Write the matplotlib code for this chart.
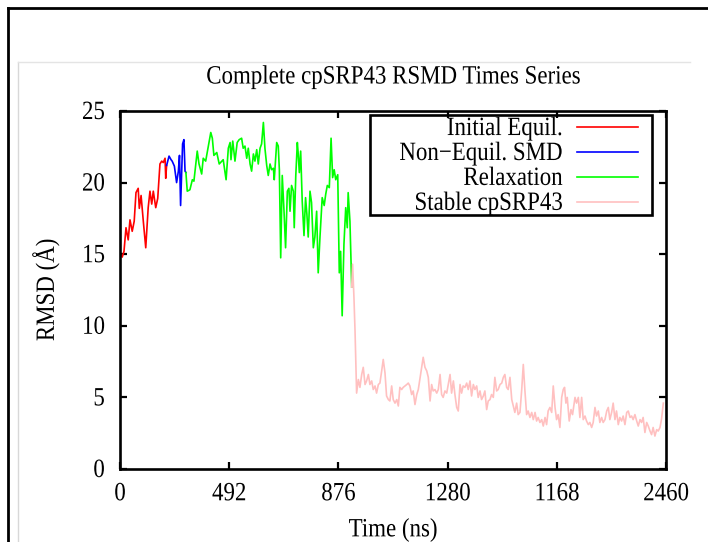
import numpy as np
import matplotlib.pyplot as plt
from matplotlib.lines import Line2D
from matplotlib.patches import Rectangle
from matplotlib.patheffects import AbstractPathEffect
from matplotlib.transforms import Affine2D

plt.rcParams['font.family'] = ['Liberation Serif', 'DejaVu Serif']

# Initial equilibration
equil_t = [0, 10, 18, 27, 37, 45, 55, 64, 72, 82,
           87, 95, 105, 116, 127, 135, 143, 150, 161, 170,
           180, 188, 195, 203, 206, 210]
equil_rmsd = [15.0, 14.8, 15.2, 16.85, 16.0, 17.4, 16.6, 17.3, 19.3, 19.6,
              18.2, 19.1, 17.3, 15.45, 18.25, 19.4, 18.5, 19.4, 18.25, 18.9,
              21.3, 21.5, 21.4, 21.7, 20.3, 21.2]

# Non-equilibrium SMD
smd_t = [210, 221, 230, 235, 245, 255, 263, 268, 273, 282, 288, 293, 297]
smd_rmsd = [21.2, 21.85, 21.6, 21.5, 21.15, 20.0, 20.8, 21.9, 18.4, 22.7, 23.0, 20.8, 20.7]

# Relaxation
relax_t = [297, 303, 315, 326, 333, 348, 356, 368, 375, 386,
           409, 416, 423, 436, 447, 465, 478, 488, 496, 500,
           508, 518, 528, 537, 548, 555, 563, 571, 578, 586,
           593, 601, 608, 616, 623, 631, 638, 646, 653, 661,
           668, 676, 683, 691, 695, 706, 713, 718, 724, 731,
           739, 746, 754, 761, 766, 773, 781, 785, 792, 799,
           803, 808, 814, 821, 829, 836, 842, 848, 856, 863,
           871, 878, 886, 893, 901, 911, 920, 927, 934, 943,
           951, 958, 965, 972, 981, 988, 994, 1001, 1009, 1017,
           1024, 1028, 1036, 1044]
relax_rmsd = [20.7, 19.4, 19.5, 20.2, 20.1, 22.2, 21.3, 20.6, 21.7, 21.5,
              23.5, 23.1, 21.9, 22.1, 21.3, 21.6, 20.2, 22.4, 22.8, 21.6,
              22.9, 21.5, 22.8, 23.0, 23.1, 22.4, 22.55, 21.7, 22.4, 21.3,
              20.8, 22.0, 21.5, 22.3, 21.3, 22.4, 22.7, 24.2, 22.4, 21.2,
              20.5, 21.3, 20.9, 21.0, 20.2, 22.8, 22.55, 20.9, 14.75, 20.5,
              18.0, 15.45, 19.4, 19.6, 18.0, 19.8, 19.4, 16.85, 20.5, 22.8,
              22.0, 20.7, 22.2, 18.7, 16.3, 18.95, 17.8, 16.2, 19.4, 18.6,
              15.45, 16.2, 18.0, 13.7, 16.2, 18.95, 18.4, 19.2, 19.8, 19.65,
              23.1, 20.35, 20.9, 20.2, 20.55, 13.7, 15.2, 10.7, 15.7, 18.25,
              16.85, 19.3, 17.3, 12.7]

# Stable cpSRP43
stable_t = [1044, 1048, 1054, 1059, 1062, 1066,
            1074, 1081, 1089, 1096, 1104, 1111, 1119, 1126, 1134, 1141,
            1149, 1156, 1164, 1171, 1179, 1186, 1194, 1201, 1209, 1216,
            1224, 1231, 1239, 1247, 1254, 1261, 1269, 1276, 1284, 1292,
            1299, 1306, 1314, 1321, 1329, 1337, 1344, 1351, 1359, 1366,
            1374, 1382, 1389, 1397, 1404, 1411, 1419, 1427, 1434, 1442,
            1449, 1456, 1464, 1472, 1479, 1487, 1494, 1502, 1509, 1517,
            1524, 1532, 1539, 1546, 1554, 1562, 1569, 1577, 1584, 1592,
            1599, 1607, 1614, 1622, 1629, 1637, 1644, 1652, 1659, 1667,
            1674, 1682, 1689, 1697, 1704, 1712, 1720, 1727, 1734, 1742,
            1749, 1757, 1765, 1772, 1779, 1787, 1794, 1802, 1810, 1817,
            1824, 1832, 1839, 1847, 1855, 1862, 1870, 1877, 1884, 1892,
            1900, 1907, 1915, 1922, 1929, 1937, 1945, 1952, 1960, 1967,
            1974, 1982, 1990, 1997, 2003, 2009, 2015, 2024, 2032, 2039,
            2050, 2057, 2065, 2072, 2080, 2087, 2095, 2102, 2110, 2117,
            2125, 2132, 2140, 2147, 2155, 2162, 2170, 2177, 2185, 2193,
            2200, 2207, 2215, 2222, 2230, 2237, 2245, 2252, 2260, 2267,
            2275, 2283, 2290, 2298, 2305, 2312, 2320, 2328, 2335, 2343,
            2350, 2357, 2365, 2373, 2380, 2388, 2395, 2402, 2410, 2418,
            2425, 2433, 2440, 2448]
stable_rmsd = [12.7, 14.3, 12.0, 9.6, 7.65, 5.3,
               6.25, 5.7, 6.6, 7.1, 5.9, 6.15, 6.6, 5.9, 6.15, 5.55,
               5.8, 5.3, 5.9, 6.0, 6.85, 7.65, 6.7, 5.1, 4.85, 4.75,
               5.8, 4.85, 4.6, 4.85, 4.4, 5.7, 5.55, 5.7, 5.8, 5.9,
               6.0, 5.8, 5.2, 5.45, 4.5, 5.2, 5.55, 6.25, 7.1, 7.8,
               7.1, 6.85, 6.4, 4.75, 5.9, 5.45, 5.55, 5.3, 5.55, 6.6,
               5.2, 5.0, 5.45, 5.3, 5.9, 6.6, 5.3, 6.15, 5.2, 4.3,
               4.05, 5.9, 5.3, 5.8, 5.7, 6.0, 5.55, 6.15, 5.1, 5.9,
               5.55, 5.8, 5.0, 5.45, 4.85, 5.1, 5.45, 4.15, 4.75, 4.85,
               5.2, 5.0, 6.4, 5.45, 5.55, 5.9, 6.0, 6.4, 6.6, 5.7,
               5.55, 6.4, 4.85, 4.4, 3.95, 4.6, 3.8, 3.95, 5.55, 7.3,
               5.55, 3.8, 4.05, 3.6, 3.95, 3.45, 3.95, 3.35, 3.6, 3.25,
               3.45, 3.0, 3.6, 3.1, 4.05, 4.3, 3.95, 5.8, 4.3, 3.45,
               3.8, 2.9, 5.0, 5.55, 5.7, 4.6, 5.0, 3.35, 4.15, 3.8,
               5.0, 4.6, 5.0, 3.6, 5.0, 3.45, 3.7, 3.35, 3.1, 3.25,
               2.9, 3.25, 4.3, 3.7, 4.05, 3.25, 3.6, 3.25, 3.45, 4.05,
               4.3, 3.45, 3.95, 4.6, 3.45, 4.05, 3.1, 3.6, 3.35, 3.7,
               3.1, 3.95, 4.05, 3.6, 3.7, 3.45, 3.8, 3.35, 3.0, 3.45,
               3.25, 3.6, 2.55, 3.25, 3.0, 2.65, 2.4, 2.9, 2.3, 2.75,
               2.65, 2.9, 3.5, 4.6]

xtick_pos = [0, 492, 984, 1476, 1968, 2460]
xtick_labels = ['0', '492', '876', '1280', '1168', '2460']
ytick_pos = [0, 5, 10, 15, 20, 25]

fs = 16.5


class Stretch(AbstractPathEffect):
    # the source text is drawn taller than it is wide
    def __init__(self, sy=1.15):
        super().__init__()
        self.sy = sy

    def draw_path(self, renderer, gc, tpath, affine, rgbFace=None):
        renderer.draw_path(gc, tpath, Affine2D().scale(1, self.sy) + affine, rgbFace)


fig = plt.figure(figsize=(7.08, 5.42), dpi=100)
ax = fig.add_axes([120 / 708, 1 - 469 / 542, 546 / 708, 358 / 542])

ax.plot(equil_t, equil_rmsd, color='#ff0000', lw=1.2, label='Initial Equil.')
ax.plot(smd_t, smd_rmsd, color='#0000ff', lw=1.2, label='Non\u2212Equil. SMD')
ax.plot(relax_t, relax_rmsd, color='#00ff00', lw=1.2, label='Relaxation')
ax.plot(stable_t, stable_rmsd, color='#ffc0c0', lw=1.2, label='Stable cpSRP43')

ax.set_xlim(0, 2460)
ax.set_ylim(0, 25)
ax.set_xticks(xtick_pos)
ax.set_xticklabels(xtick_labels)
ax.set_yticks(ytick_pos)
ax.tick_params(direction='in', length=5, width=1.6, labelsize=fs,
               top=True, right=True)
ax.tick_params(axis='x', pad=11)
ax.tick_params(axis='y', pad=11)
for s in ax.spines.values():
    s.set_linewidth(1.9)

ax.set_xlabel('Time (ns)', fontsize=fs)
ax.xaxis.set_label_coords(0.5, -0.143)
ax.set_ylabel('RMSD (Å)', fontsize=fs)
ax.yaxis.set_label_coords(-0.112, 0.5)

title = fig.text(393 / 708, 1 - 78 / 542, 'Complete cpSRP43 RSMD Times Series',
                 fontsize=fs, ha='center', va='center')

leg = ax.legend(loc='upper right', bbox_to_anchor=(638 / 708, 1 - 119 / 542),
                bbox_transform=fig.transFigure, borderaxespad=0, borderpad=0,
                markerfirst=False, frameon=False, fontsize=fs,
                handlelength=2.65, handletextpad=0.65, labelspacing=0.17)
fig.add_artist(Rectangle((370 / 708, 1 - 215 / 542), 282 / 708, 100 / 542,
                         transform=fig.transFigure, fill=False,
                         edgecolor='black', lw=1.9))

stretch = [Stretch(1.15)]
for t in (ax.get_xticklabels() + ax.get_yticklabels() + leg.get_texts()
          + [ax.xaxis.label, ax.yaxis.label, title]):
    t.set_path_effects(stretch)

# surrounding frame of the screenshot
fig.add_artist(Line2D([8 / 708, 8 / 708], [0, 1 - 8 / 542], color='black',
                      lw=2, transform=fig.transFigure))
fig.add_artist(Line2D([8 / 708, 1], [1 - 8 / 542, 1 - 8 / 542], color='black',
                      lw=2, transform=fig.transFigure))
fig.add_artist(Line2D([18 / 708, 18 / 708], [0, 1 - 62 / 542], color='#d8d8d8',
                      lw=1, transform=fig.transFigure))
fig.add_artist(Line2D([18 / 708, 690 / 708], [1 - 62 / 542, 1 - 62 / 542],
                      color='#e4e4e4', lw=1, transform=fig.transFigure))

fig.savefig('out.png', dpi=100)
